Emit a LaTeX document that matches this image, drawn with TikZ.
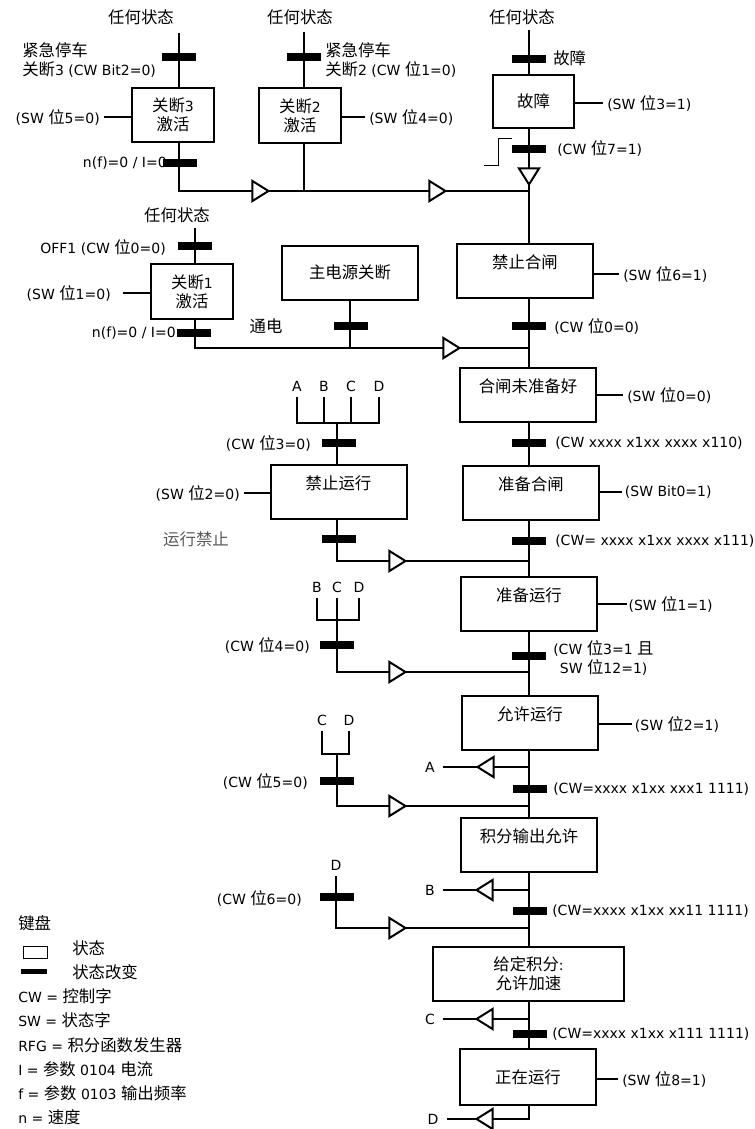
\documentclass[tikz,border=0pt]{standalone}
\usepackage{fontspec}
\setmainfont{DejaVu Sans}
\newfontfamily\latinfont{DejaVu Sans}
\newfontfamily\cjkfont[Scale=1.17]{Noto Sans CJK SC}
\usetikzlibrary{shapes.geometric,positioning}

% switch to the CJK face for ideographs
\XeTeXinterchartokenstate=1
\newXeTeXintercharclass\cjkclass
\newcount\cjkcount
\cjkcount="4E00
\loop
  \XeTeXcharclass\cjkcount=\cjkclass
  \advance\cjkcount by 1
\ifnum\cjkcount<"A000 \repeat
\XeTeXinterchartoks 0 \cjkclass = {\cjkfont}
\XeTeXinterchartoks 4095 \cjkclass = {\cjkfont}
\XeTeXinterchartoks \cjkclass 0 = {\latinfont}
\XeTeXinterchartoks \cjkclass 4095 = {\latinfont}

\begin{document}
\begin{tikzpicture}[x=0.75pt, y=-0.75pt,
  font=\fontsize{10.5pt}{14pt}\selectfont,
  flow/.style={line width=1.5pt},
  stbox/.style={draw, line width=1.5pt, fill=white, rectangle,
    minimum width=102pt, minimum height=40.5pt, align=center, inner sep=0pt},
  smallbox/.style={stbox, minimum width=61pt, minimum height=41pt},
  bar/.style={fill=black, rectangle, minimum width=26pt, minimum height=6pt, inner sep=0pt},
  lbl/.style={inner sep=0pt, align=left},
  swl/.style={inner xsep=3pt, inner ysep=0pt},
  letter/.style={inner xsep=0pt, inner ysep=4pt},
  endl/.style={inner xsep=6pt, inner ysep=0pt},
  rtri/.style={isosceles triangle, isosceles triangle stretches, draw, fill=white,
    line width=1.5pt, inner sep=0pt, minimum width=15pt, minimum height=12pt},
  ltri/.style={rtri, shape border rotate=180},
  dtri/.style={rtri, shape border rotate=270},
]
\useasboundingbox (0,0) rectangle (755,1129);

%--- any state entries ---
\node[lbl] (any3) at (141,17) {任何状态};
\node[lbl] (any2) at (300,17) {任何状态};
\node[lbl] (anyf) at (522,17) {任何状态};
\node[lbl] (any1) at (177,215) {任何状态};
\coordinate (top3) at (179,33);
\coordinate (top2) at (304,32);
\coordinate (topf) at (529,30);
\coordinate (top1) at (195,228);

\node[lbl, anchor=west] (estop3) at (22,60) {紧急停车\\关断3 (CW Bit2=0)};
\node[lbl, anchor=west] (estop2) at (325,60) {紧急停车\\关断2 (CW 位1=0)};
\node[lbl, anchor=west] (faultlbl) at (553,58) {故障};
\node[lbl, anchor=east] (nf3) at (167,163) {n(f)=0 / I=0};
\node[lbl, anchor=west] (cw7) at (557,148) {(CW 位7=1)};
\node[lbl, anchor=east] (off1lbl) at (166,247) {OFF1 (CW 位0=0)};
\node[lbl, anchor=east] (nf1) at (176,333) {n(f)=0 / I=0};
\node[lbl] (poweron) at (266,326) {通电};

%--- states ---
\node[smallbox] (off3) at (173,115) {关断3\\激活};
\node[smallbox] (off2) at (300,115.5) {关断2\\激活};
\node[smallbox, minimum height=40pt] (fault) at (533.5,101.5) {故障};
\node[smallbox] (off1) at (192,291.5) {关断1\\激活};
\node[stbox] (mains) at (350,272.5) {主电源关断};
\node[stbox] (swon) at (525,270.5) {禁止合闸\\\mbox{}};
\node[stbox] (notready) at (528,395) {合闸未准备好\\\mbox{}};
\node[stbox] (readyon) at (531,492.5) {准备合闸\\\mbox{}};
\node[stbox] (opinh) at (338.5,492) {禁止运行\\\mbox{}};
\node[stbox] (readyrun) at (529,604) {准备运行\\\mbox{}};
\node[stbox] (openab) at (530,722.5) {允许运行\\\mbox{}};
\node[stbox] (rfgout) at (529,845) {积分输出允许\\\mbox{}};
\node[stbox, minimum width=143pt] (rfgacc) at (528.5,973.5) {给定积分:\\允许加速};
\node[stbox, minimum height=42pt] (running) at (528,1077) {正在运行};

%--- status word labels ---
\node[swl, anchor=east] (sw5) at (104,117) {(SW 位5=0)};
\node[swl, anchor=west] (sw4) at (365,117) {(SW 位4=0)};
\node[swl, anchor=west] (sw3) at (603,103) {(SW 位3=1)};
\node[swl, anchor=east, inner xsep=9pt] (sw1) at (123,293) {(SW 位1=0)};
\node[swl, anchor=west] (sw6) at (619,274) {(SW 位6=1)};
\node[swl, anchor=west] (sw0) at (623,395) {(SW 位0=0)};
\node[swl, anchor=east] (sw2l) at (244,493) {(SW 位2=0)};
\node[swl, anchor=west, inner xsep=2pt] (swb0) at (622,492) {(SW Bit0=1)};
\node[swl, anchor=west, inner xsep=1pt] (sw1r) at (627,604) {(SW 位1=1)};
\node[swl, anchor=west, inner xsep=2pt] (sw2r) at (632,724) {(SW 位2=1)};
\node[swl, anchor=west] (sw8) at (618,1079) {(SW 位8=1)};

%--- control word labels ---
\node[lbl, anchor=west] (cw0) at (554,326) {(CW 位0=0)};
\node[lbl, anchor=west] (cwa) at (555,443) {(CW xxxx x1xx xxxx x110)};
\node[lbl, anchor=west] (cwb) at (555,541) {(CW= xxxx x1xx xxxx x111)};
\node[lbl, anchor=west] (cw3) at (553,658) {(CW 位3=1 且\\\hspace{5pt}SW 位12=1)};
\node[lbl, anchor=west] (cwc) at (553,789) {(CW=xxxx x1xx xxx1 1111)};
\node[lbl, anchor=west] (cwd) at (552,911) {(CW=xxxx x1xx xx11 1111)};
\node[lbl, anchor=west] (cwe) at (552,1034) {(CW=xxxx x1xx x111 1111)};
\node[lbl, anchor=east] (cw3l) at (311,443) {(CW 位3=0)};
\node[lbl, anchor=east] (cw4l) at (310,645) {(CW 位4=0)};
\node[lbl, anchor=east] (cw5l) at (308,781) {(CW 位5=0)};
\node[lbl, anchor=east] (cw6l) at (302,898) {(CW 位6=0)};
\node[lbl, text=black!65] (runinh) at (196,539) {运行禁止};

%--- jump letters ---
\node[letter] (fa) at (297,386) {A};
\node[letter] (fb) at (324,386) {B};
\node[letter] (fc) at (351,386) {C};
\node[letter] (fd) at (379,386) {D};
\node[letter] (gb) at (317,587) {B};
\node[letter] (gc) at (337,587) {C};
\node[letter] (gd) at (359,587) {D};
\node[letter] (hc) at (322,720) {C};
\node[letter] (hd) at (349,720) {D};
\node[letter] (id) at (336,865) {D};
\node[endl] (ra) at (430,767) {A};
\node[endl] (rb) at (430,890) {B};
\node[endl] (rc) at (430,1019) {C};
\node[endl] (rd) at (433,1119) {D};

\coordinate (j1) at (529,191);
\coordinate (j2) at (529,348);
\coordinate (j3) at (529,561);
\coordinate (j4) at (529,672);
\coordinate (j5) at (529,806);
\coordinate (j6) at (529,928);
\coordinate (fk1) at (337,423);
\coordinate (fk2) at (337,620);
\coordinate (fk3) at (337,754);

%--- flow lines ---
\draw[flow] (top3) -- (top3 |- off3.north);
\draw[flow] (top3 |- off3.south) |- (j1);
\draw[flow] (top2) -- (top2 |- off2.north);
\draw[flow] (top2 |- off2.south) -- (top2 |- j1);
\draw[flow] (topf) -- (topf |- fault.north);
\draw[flow] (topf |- fault.south) -- (topf |- swon.north);
\draw[flow] (top1) -- (top1 |- off1.north);
\draw[flow] (top1 |- off1.south) |- (j2);
\draw[flow] (mains.south) -- (mains.south |- j2);
\draw[flow] (j2 |- swon.south) -- (j2 |- notready.north);
\draw[flow] (j2 |- notready.south) -- (j2 |- readyon.north);
\draw[flow] (j2 |- readyon.south) -- (j2 |- readyrun.north);
\draw[flow] (j2 |- readyrun.south) -- (j2 |- openab.north);
\draw[flow] (j2 |- openab.south) -- (j2 |- rfgout.north);
\draw[flow] (j2 |- rfgout.south) -- (j2 |- rfgacc.north);
\draw[flow] (j2 |- rfgacc.south) -- (j2 |- running.north);
\draw[flow] (j2 |- running.south) |- (rd.east);

\draw[flow] (fa.south) |- (fd.south |- fk1) -- (fd.south);
\draw[flow] (fb.south) -- (fb.south |- fk1);
\draw[flow] (fc.south) -- (fc.south |- fk1);
\draw[flow] (fk1) -- (fk1 |- opinh.north);
\draw[flow] (fk1 |- opinh.south) |- (j3);
\draw[flow] (gb.south) |- (gd.south |- fk2) -- (gd.south);
\draw[flow] (gc.south) |- (j4);
\draw[flow] (hc.south) |- (hd.south |- fk3) -- (hd.south);
\draw[flow] (fk3) |- (j5);
\draw[flow] (id.south) |- (j6);

\draw[flow] (j2 |- ra) -- (ra.east);
\draw[flow] (j2 |- rb) -- (rb.east);
\draw[flow] (j2 |- rc) -- (rc.east);

%--- status word ties ---
\draw[flow] (sw5.east) -- (sw5.east -| off3.west);
\draw[flow] (sw4.west -| off2.east) -- (sw4.west);
\draw[flow] (sw3.west -| fault.east) -- (sw3.west);
\draw[flow] (sw1.east) -- (sw1.east -| off1.west);
\draw[flow] (sw6.west -| swon.east) -- (sw6.west);
\draw[flow] (sw0.west -| notready.east) -- (sw0.west);
\draw[flow] (sw2l.east) -- (sw2l.east -| opinh.west);
\draw[flow] (swb0.west -| readyon.east) -- (swb0.west);
\draw[flow] (sw1r.west -| readyrun.east) -- (sw1r.west);
\draw[flow] (sw2r.west -| openab.east) -- (sw2r.west);
\draw[flow] (sw8.west -| running.east) -- (sw8.west);

% reset edge
\draw[line width=0.75pt] (484,165) -- (498,165) -- (498,138) -- (512,138);

%--- state changes ---
\node[bar] (b3a) at (179,57) {};
\node[bar] (b2a) at (304,57) {};
\node[bar] (bfa) at (529,59) {};
\node[bar] (b3b) at (180,163) {};
\node[bar] (bfb) at (529,149) {};
\node[bar] (b1a) at (195,246) {};
\node[bar] (b1b) at (194,333) {};
\node[bar] (bmain) at (351,326) {};
\node[bar] (bsw) at (529,326) {};
\node[bar] (babcd) at (339,443) {};
\node[bar] (bnr) at (529,443) {};
\node[bar] (binh) at (339,539) {};
\node[bar] (brd) at (529,541) {};
\node[bar] (bbcd) at (337,645) {};
\node[bar] (brr) at (529,656) {};
\node[bar] (bcd) at (337,781) {};
\node[bar] (ben) at (530,789) {};
\node[bar] (bd) at (337,897) {};
\node[bar] (bro) at (530,911) {};
\node[bar] (bacc) at (530,1034) {};

%--- direction marks ---
\node[rtri] (t1) at (258,191) {};
\node[rtri] (t2) at (435,191) {};
\node[dtri] (t3) at (529,174) {};
\node[rtri] (t4) at (449,348) {};
\node[rtri] (t5) at (395,561) {};
\node[rtri] (t6) at (395,672) {};
\node[rtri] (t7) at (395,806) {};
\node[rtri] (t8) at (395,928) {};
\node[ltri] (t9) at (488,767) {};
\node[ltri] (t10) at (487,890) {};
\node[ltri] (t11) at (487,1019) {};
\node[ltri] (t12) at (487,1119) {};

%--- key ---
\node[lbl, anchor=west] (keyhd) at (18,923) {键盘};
\node[draw, line width=0.75pt, minimum width=18pt, minimum height=9pt, inner sep=0pt] (keybox) at (35,952) {};
\node[lbl, anchor=west] (keystate) at (72,948) {状态};
\node[bar, minimum width=19.5pt, minimum height=4pt] (keybar) at (34,971.5) {};
\node[lbl, anchor=west] (keychg) at (72,972) {状态改变};
\node[lbl, anchor=west] (keycw) at (18,996) {CW = 控制字};
\node[lbl, anchor=west] (keysw) at (18,1020) {SW = 状态字};
\node[lbl, anchor=west] (keyrfg) at (18,1045) {RFG = 积分函数发生器};
\node[lbl, anchor=west] (keyi) at (18,1069) {I = 参数 0104 电流};
\node[lbl, anchor=west] (keyf) at (18,1093) {f = 参数 0103 输出频率};
\node[lbl, anchor=west] (keyn) at (18,1117) {n = 速度};

\end{tikzpicture}
\end{document}
